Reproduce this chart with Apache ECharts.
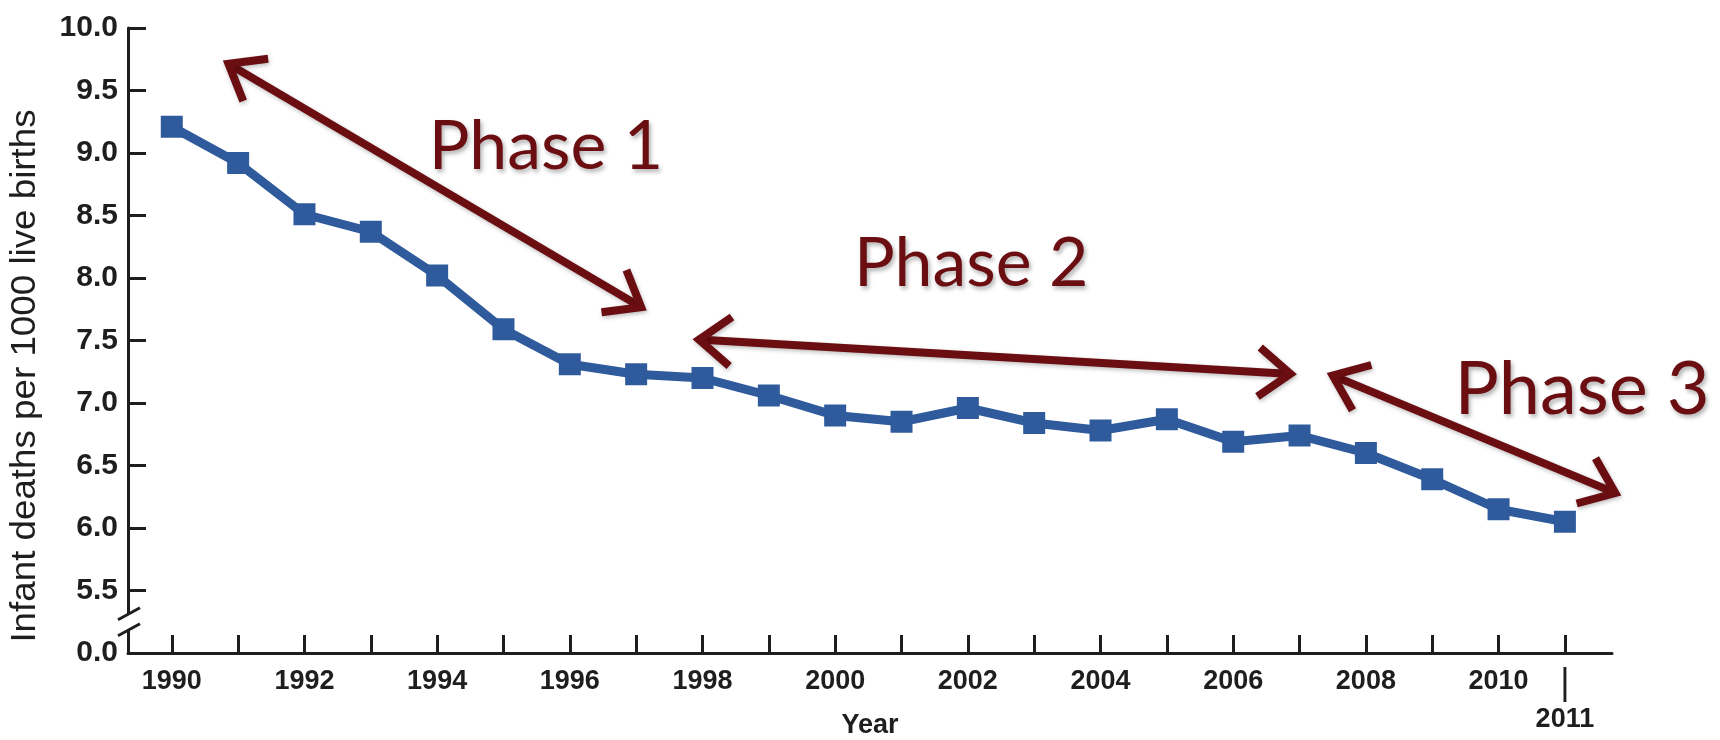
<!DOCTYPE html>
<html>
<head>
<meta charset="utf-8">
<script src="https://cdn.jsdelivr.net/npm/echarts@6/dist/echarts.min.js"></script>
<style>
  html, body { margin: 0; padding: 0; background: #fff; }
  #main { width: 1720px; height: 740px; }
</style>
</head>
<body>
<div id="main"></div>
<script>
const years = [1990, 1991, 1992, 1993, 1994, 1995, 1996, 1997, 1998, 1999, 2000,
  2001, 2002, 2003, 2004, 2005, 2006, 2007, 2008, 2009, 2010, 2011];
const rates = [9.21, 8.92, 8.51, 8.37, 8.02, 7.59, 7.31, 7.23, 7.20, 7.06, 6.90,
  6.85, 6.96, 6.84, 6.78, 6.87, 6.69, 6.74, 6.60, 6.39, 6.15, 6.05];
const yearLabels = [1990, 1992, 1994, 1996, 1998, 2000, 2002, 2004, 2006, 2008, 2010, 2011];

// phase annotations, in data coordinates
const phaseNames = ['Phase 1', 'Phase 2', 'Phase 3'];
const phaseTextAt = [[1995.64, 9.05], [2002.05, 8.11], [2011.26, 7.10]];
const phaseArrowFrom = [[1990.77, 9.74], [1997.85, 7.51], [2007.41, 7.24]];
const phaseArrowTo = [[1997.16, 7.74], [2006.96, 7.23], [2011.85, 6.26]];

const dark = '#1e1e1e';
const maroon = '#6b0e12';

const chart = echarts.init(document.getElementById('main'));

chart.setOption({
  animation: false,
  backgroundColor: '#fff',
  grid: {left: 128, right: 108, top: 28, bottom: 87, outerBoundsMode: 'none', containLabel: false},
  xAxis: {
    type: 'value',
    min: 1989.34,
    max: 2011.71,
    name: 'Year',
    nameLocation: 'middle',
    nameGap: 59,
    nameMoveOverlap: false,
    nameTextStyle: {color: dark, fontSize: 27, fontWeight: 'bold', fontFamily: 'Liberation Sans'},
    splitLine: {show: false},
    axisLine: {lineStyle: {color: dark, width: 3}},
    axisTick: {inside: true, length: 18, lineStyle: {color: dark, width: 3}, customValues: years},
    axisLabel: {
      customValues: yearLabels,
      color: dark,
      margin: 12,
      formatter: v => v === 2011 ? '{bar||}\n{y|2011}' : '{y|' + v + '}',
      rich: {
        bar: {fontSize: 36, lineHeight: 38, color: dark, fontFamily: 'Liberation Sans'},
        y: {fontSize: 27, lineHeight: 34, fontWeight: 'bold', color: dark, fontFamily: 'Liberation Sans'}
      }
    }
  },
  yAxis: {
    type: 'value',
    min: 5,
    max: 10,
    interval: 0.5,
    splitLine: {show: false},
    axisLine: {show: true, lineStyle: {color: dark, width: 3}},
    axisTick: {inside: true, length: 18, lineStyle: {color: dark, width: 3}},
    axisLabel: {
      color: dark,
      fontSize: 30,
      fontWeight: 'bold',
      fontFamily: 'Liberation Sans',
      margin: 10,
      formatter: v => v === 5 ? '0.0' : v.toFixed(1)
    }
  },
  series: [{
    type: 'line',
    data: years.map((y, i) => [y, rates[i]]),
    symbol: 'rect',
    symbolSize: 22,
    lineStyle: {color: '#2f5b9c', width: 9},
    itemStyle: {color: '#2f5b9c'}
  }]
});

// axis title, axis break, arrows and phase labels
const px = p => chart.convertToPixel({gridIndex: 0}, p);
const graphics = [];

graphics.push({
  type: 'text', x: 25, y: 376, rotation: Math.PI / 2, scaleX: 1.05,
  style: {
    text: 'Infant deaths per 1000 live births', fill: dark,
    fontSize: 35, fontFamily: 'Liberation Sans',
    textAlign: 'center', textVerticalAlign: 'middle'
  }
});

const b = px([1989.34, 5.25]);
graphics.push(
  {type: 'rect', z: 100, shape: {x: b[0] - 6, y: b[1] - 7.5, width: 12, height: 16}, style: {fill: '#fff'}},
  {type: 'line', z: 101, shape: {x1: b[0] - 10, y1: b[1] - 2, x2: b[0] + 12, y2: b[1] - 14}, style: {stroke: dark, lineWidth: 3}},
  {type: 'line', z: 101, shape: {x1: b[0] - 10, y1: b[1] + 14, x2: b[0] + 12, y2: b[1] + 2}, style: {stroke: dark, lineWidth: 3}}
);

const armLen = 40, armAngle = 0.66, inset = 6.5;
function head(tip, bx, by) {
  const c = Math.cos(armAngle), s = Math.sin(armAngle);
  const t = [tip[0] + bx * inset, tip[1] + by * inset];
  const r1 = [bx * c - by * s, bx * s + by * c];
  const r2 = [bx * c + by * s, -bx * s + by * c];
  return [[t[0] + r1[0] * armLen, t[1] + r1[1] * armLen], t,
    [t[0] + r2[0] * armLen, t[1] + r2[1] * armLen]];
}
const arrowStyle = {
  stroke: maroon, lineWidth: 8, lineJoin: 'miter',
  shadowBlur: 4, shadowColor: 'rgba(0,0,0,0.25)', shadowOffsetX: 1, shadowOffsetY: 2
};
phaseArrowFrom.forEach((from, i) => {
  const p1 = px(from), p2 = px(phaseArrowTo[i]);
  const dx = p2[0] - p1[0], dy = p2[1] - p1[1];
  const len = Math.hypot(dx, dy), ux = dx / len, uy = dy / len;
  graphics.push(
    {type: 'polyline', z: 50, shape: {points: [[p1[0] + ux * 10, p1[1] + uy * 10], [p2[0] - ux * 10, p2[1] - uy * 10]]}, style: arrowStyle},
    {type: 'polyline', z: 50, shape: {points: head(p1, ux, uy)}, style: arrowStyle},
    {type: 'polyline', z: 50, shape: {points: head(p2, -ux, -uy)}, style: arrowStyle}
  );
});

phaseNames.forEach((name, i) => {
  const p = px(phaseTextAt[i]);
  graphics.push({
    type: 'text', z: 60, x: p[0], y: p[1],
    style: {
      text: name, fill: maroon,
      fontSize: i === 2 ? 74 : 68, fontFamily: 'Lato',
      textAlign: 'center', textVerticalAlign: 'middle',
      textShadowColor: 'rgba(0,0,0,0.3)', textShadowBlur: 4,
      textShadowOffsetX: 2, textShadowOffsetY: 3
    }
  });
});

chart.setOption({graphic: graphics});
</script>
</body>
</html>
